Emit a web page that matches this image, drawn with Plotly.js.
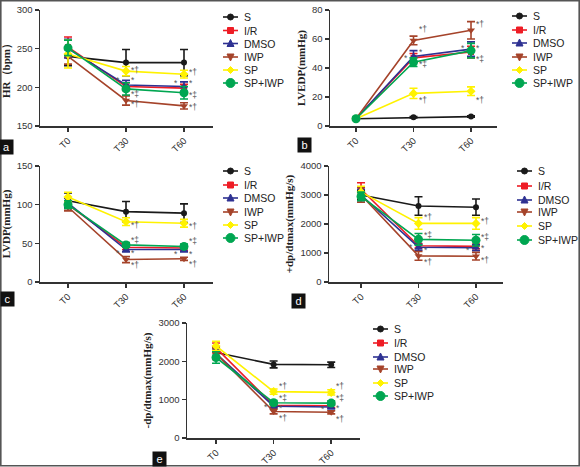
<!DOCTYPE html>
<html><head><meta charset="utf-8">
<script src="https://cdn.plot.ly/plotly-3.0.1.min.js"></script>
<style>html,body{margin:0;padding:0;background:#fff}#chart{width:580px;height:467px}</style>
</head><body><div id="chart"></div>
<script>
// ---------- data ----------
const cats = ['T0', 'T30', 'T60'];
const groups = ['S', 'I/R', 'DMSO', 'IWP', 'SP', 'SP+IWP'];

// rows follow `groups`, columns follow `cats`
const hrMean = [[240,232,232],[252,201,199],[250,203,201],[240,183,176],[243,221,217],[251,198,193]];
const hrErr  = [[12,17,17],[13,5,5],[12,6,6],[10,6,4],[18,6,5],[10,8,8]];

const lvedpMean = [[5,6,6.5],[5,47,51],[5,48,53],[5,59,66],[5,22.5,24],[5,44,52]];
const lvedpErr  = [[0.5,0.5,0.5],[1,3,4],[1,4,5],[1,3,6],[1,3.5,3],[1,3,5]];

const lvdpMean = [[105,91,89],[100,45,44],[102,42,42],[97,29,30],[110,78,76],[100,48,46]];
const lvdpErr  = [[10,13,12],[5,3,3],[6,3,3],[5,4,2],[6,5,5],[5,3,3]];

const dpPosMean = [[3000,2620,2580],[3200,1250,1230],[3000,1200,1180],[3000,900,890],[3100,2020,2020],[2950,1470,1440]];
const dpPosErr  = [[150,320,280],[220,80,80],[200,100,100],[250,150,130],[200,200,200],[150,200,200]];

const dpNegMean = [[2230,1920,1910],[2350,850,840],[2200,830,810],[2200,690,670],[2400,1210,1190],[2100,920,910]];
const dpNegErr  = [[150,90,70],[130,50,50],[120,50,50],[150,60,40],[120,70,70],[150,60,60]];

// significance marks: [text, category index, y value, side]
const hrSig = [['*†',1,222,'r'],['*',1,209,'r'],['*',1,209,'l'],['*‡',1,192,'r'],['*†',1,179,'r'],
               ['*†',2,220,'r'],['*',2,206,'r'],['*',2,206,'l'],['*‡',2,190,'r'],['*†',2,174,'r']];
const lvedpSig = [['*†',1,66.6,'r'],['*',1,51,'r'],['*',1,47,'l'],['*‡',1,42.6,'r'],['*†',1,17.7,'r'],
                  ['*†',2,70.3,'r'],['*',2,53.5,'r'],['*',2,53.5,'l'],['*‡',2,45.9,'r'],['*†',2,18.2,'r']];
const lvdpSig = [['*†',1,73.5,'r'],['*‡',1,54,'r'],['*',1,37,'r'],['*',1,38,'l'],['*†',1,22.5,'r'],
                 ['*†',2,72.6,'r'],['*‡',2,52.7,'r'],['*',2,36.7,'r'],['*',2,36.7,'l'],['*†',2,23.8,'r']];
const dpPosSig = [['*†',1,2248,'r'],['*‡',1,1637,'r'],['*',1,1095,'r'],['*',1,1200,'l'],['*†',1,692,'r'],
                  ['*†',2,2110,'r'],['*‡',2,1556,'r'],['*',2,1187,'r'],['*',2,1095,'l'],['*†',2,749,'r']];
const dpNegSig = [['*†',1,1360,'r'],['*‡',1,1045,'r'],['*',1,780,'r'],['*',1,820,'l'],['*†',1,510,'r'],
                  ['*†',2,1360,'r'],['*‡',2,1045,'r'],['*',2,780,'r'],['*',2,760,'l'],['*†',2,500,'r']];

const yTitles = ['HR（bpm）', 'LVEDP(mmHg)', 'LVDP(mmHg)', '+dp/dtmax(mmHg/s)', '-dp/dtmax(mmHg/s)'];
const panelLetters = ['a', 'b', 'c', 'd', 'e'];

// ---------- styles ----------
const colors  = ['#1a1a1a', '#ee1c25', '#2e3192', '#a5432a', '#fff200', '#00a651'];
const symbols = ['circle', 'square', 'triangle-up', 'triangle-down', 'diamond', 'circle'];
const msizes  = [6, 6, 7, 7, 7, 9];

const W = 580, H = 467;
const px = v => v / W;
const py = v => 1 - v / H;

// panel geometry in pixels
const geo = [
  {x0:40,  x1:213, y0:10,  y1:126, xr:[-0.483,2.5],  yr:[150,300], dt:50,   leg:{x:223, ys:[17,30.5,43.5,57,70,83]},   lab:[6,147]},
  {x0:330, x1:497, y0:10,  y1:126, xr:[-0.452,2.452],yr:[0,80],    dt:20,   leg:{x:512, ys:[16,30,43,57,70,83]},       lab:[304.5,145]},
  {x0:40,  x1:213, y0:166, y1:282, xr:[-0.483,2.5],  yr:[0,150],   dt:50,   leg:{x:223, ys:[171,185,198,212,225,238]}, lab:[7,298.5]},
  {x0:329, x1:503, y0:166, y1:282, xr:[-0.557,2.47], yr:[0,4000],  dt:1000, leg:{x:517, ys:[171,186,200,212,226,240]}, lab:[298,301]},
  {x0:187, x1:360, y0:323, y1:438, xr:[-0.504,2.5],  yr:[0,3000],  dt:1000, leg:{x:373, ys:[329,343,357,369,383,396]}, lab:[159,459]}
];

const means = [hrMean, lvedpMean, lvdpMean, dpPosMean, dpNegMean];
const errs  = [hrErr, lvedpErr, lvdpErr, dpPosErr, dpNegErr];
const sigs  = [hrSig, lvedpSig, lvdpSig, dpPosSig, dpNegSig];

const traces = [];
const layout = {
  width: W, height: H,
  margin: {l:0, r:0, t:0, b:0},
  paper_bgcolor: '#fff', plot_bgcolor: 'rgba(0,0,0,0)',
  showlegend: false,
  font: {family: 'Liberation Sans, Arial, sans-serif', color: '#333'},
  annotations: [], shapes: []
};

geo.forEach((g, p) => {
  const sfx = p === 0 ? '' : String(p + 1);
  const xa = 'x' + sfx, ya = 'y' + sfx;
  groups.forEach((name, gi) => {
    traces.push({
      type: 'scatter', mode: 'lines+markers', name: name,
      x: cats, y: means[p][gi], xaxis: xa, yaxis: ya,
      line: {color: colors[gi], width: 1.6},
      marker: {color: colors[gi], symbol: symbols[gi], size: msizes[gi]},
      error_y: {type: 'data', array: errs[p][gi], visible: true, color: colors[gi], thickness: 1.6, width: 4},
      hoverinfo: 'x+y+name'
    });
  });
  layout['xaxis' + sfx] = {
    domain: [px(g.x0), px(g.x1)], anchor: ya, type: 'category',
    range: g.xr, showgrid: false, zeroline: false,
    showline: true, linecolor: '#333', linewidth: 1.5,
    ticks: 'outside', ticklen: 4, tickwidth: 1.5, tickcolor: '#333',
    tickangle: -45, tickfont: {size: 9.5, color: '#333'}
  };
  layout['yaxis' + sfx] = {
    domain: [py(g.y1), py(g.y0)], anchor: xa,
    range: g.yr, dtick: g.dt, showgrid: false, zeroline: false,
    showline: true, linecolor: '#333', linewidth: 1.5,
    ticks: 'outside', ticklen: 4, tickwidth: 1.5, tickcolor: '#333',
    tickfont: {size: 9.5, color: '#333'},
    title: {text: yTitles[p], standoff: 4,
            font: {family: 'Liberation Serif, Times New Roman, serif', size: 11, color: '#222', weight: 700}}
  };
  // significance marks
  sigs[p].forEach(s => {
    layout.annotations.push({
      xref: xa, yref: ya, x: s[1], y: s[2], text: s[0], showarrow: false,
      xanchor: s[3] === 'r' ? 'left' : 'right', xshift: s[3] === 'r' ? 3 : -4,
      font: {size: 8.5, color: '#555'}
    });
  });
  // legend (drawn in paper space)
  groups.forEach((name, gi) => {
    const y = g.leg.ys[gi], x0 = g.leg.x, x1 = g.leg.x + 15, cx = g.leg.x + 7.5;
    layout.shapes.push({type:'line', xref:'paper', yref:'paper', x0:px(x0), x1:px(x1), y0:py(y), y1:py(y),
                        line:{color: colors[gi], width: 1.6}});
    const r = msizes[gi] / 2;
    let shp;
    if (symbols[gi] === 'circle') {
      shp = {type:'circle', x0:px(cx-r), x1:px(cx+r), y0:py(y+r), y1:py(y-r)};
    } else if (symbols[gi] === 'square') {
      shp = {type:'rect', x0:px(cx-r), x1:px(cx+r), y0:py(y+r), y1:py(y-r)};
    } else {
      let pts;
      if (symbols[gi] === 'triangle-up') pts = [[cx, y-r-0.5],[cx+r, y+r-0.5],[cx-r, y+r-0.5]];
      else if (symbols[gi] === 'triangle-down') pts = [[cx, y+r+0.5],[cx+r, y-r+0.5],[cx-r, y-r+0.5]];
      else pts = [[cx, y-r],[cx+r, y],[cx, y+r],[cx-r, y]];
      shp = {type:'path', path: 'M' + pts.map(q => px(q[0]) + ',' + py(q[1])).join('L') + 'Z'};
    }
    Object.assign(shp, {xref:'paper', yref:'paper', fillcolor: colors[gi], line:{color: colors[gi], width: 1}});
    layout.shapes.push(shp);
    layout.annotations.push({xref:'paper', yref:'paper', x: px(x1 + 4), y: py(y), text: name,
      showarrow:false, xanchor:'left', yanchor:'middle', font:{size:10.5, color:'#222'}});
  });
  // panel letter
  layout.annotations.push({xref:'paper', yref:'paper', x: px(g.lab[0]), y: py(g.lab[1]), text: panelLetters[p],
    showarrow:false, xanchor:'center', yanchor:'middle', bgcolor:'#111', width: 11, height: 12, borderpad: 1,
    font:{size:11, color:'#fff', family:'Liberation Sans, Arial, sans-serif'}});
});

// outer frame
layout.shapes.push({type:'rect', xref:'paper', yref:'paper', x0:px(0.8), x1:px(579.2), y0:py(465.8), y1:py(0.8),
                    line:{color:'#555', width:1.6}});

Plotly.newPlot('chart', traces, layout, {staticPlot: true, displayModeBar: false});
</script></body></html>
